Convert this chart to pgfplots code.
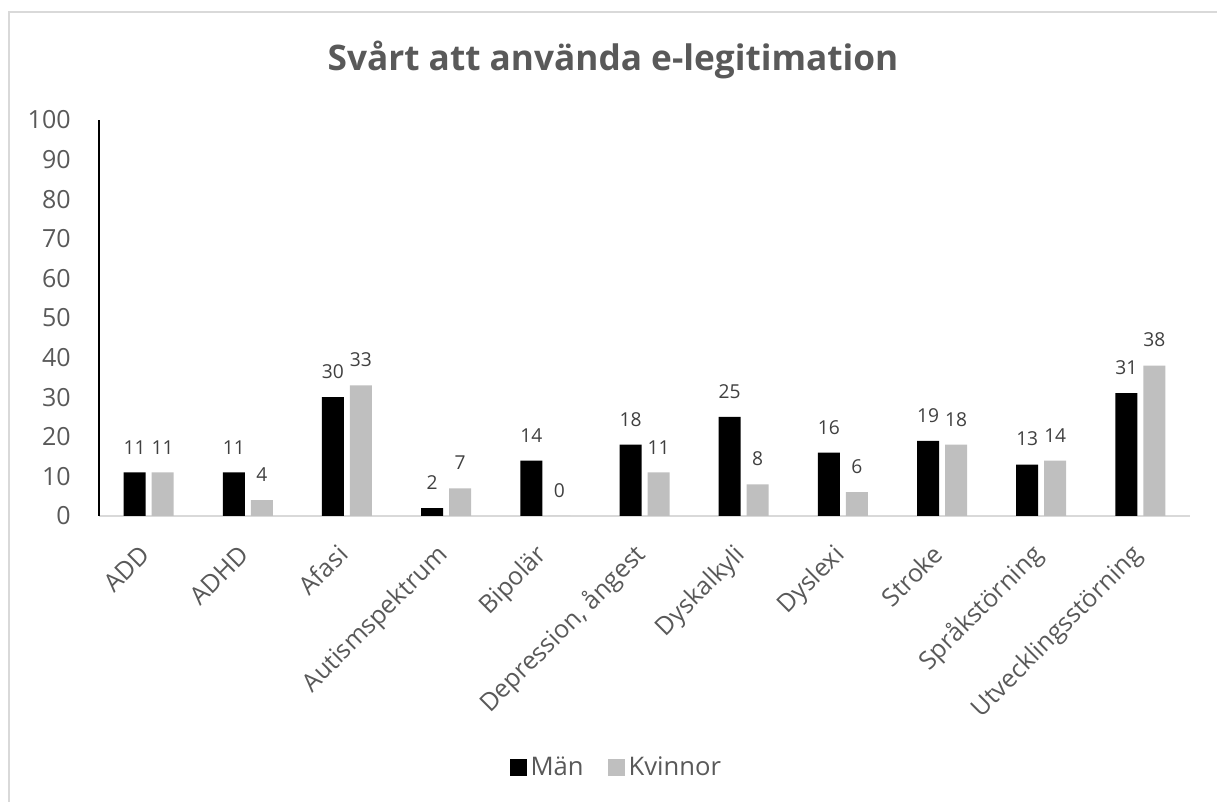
\documentclass[border=0pt]{standalone}
\usepackage{fontspec}
\setmainfont{Open Sans}
\usepackage{pgfplots}
\pgfplotsset{compat=1.18}
\definecolor{txt}{HTML}{595959}
\definecolor{lbl}{HTML}{404040}
\definecolor{frame}{HTML}{D9D9D9}
\definecolor{kv}{HTML}{BFBFBF}
\begin{document}
\begin{tikzpicture}
\useasboundingbox (-49.5pt,-143pt) rectangle (559pt,258pt);
\draw[frame, line width=0.8pt] (-45pt,-143pt) -- (-45pt,252pt) -- (559pt,252pt);
\begin{axis}[
  at={(0pt,0pt)}, anchor=south west,
  scale only axis, width=545.5pt, height=198pt,
  xmin=-0.5, xmax=10.5, ymin=0, ymax=100,
  ybar=3pt, bar width=11pt,
  axis x line*=bottom, axis y line*=left,
  x axis line style={draw=frame, line width=0.8pt, -},
  y axis line style={draw=black, line width=0.8pt, -},
  major tick length=0pt,
  xtick={0,...,10},
  xticklabels={ADD, ADHD, Afasi, Autismspektrum, Bipolär, {Depression, ångest}, Dyskalkyli, Dyslexi, Stroke, Språkstörning, Utvecklingsstörning},
  xticklabel style={xshift=1.5pt, yshift=-20pt, rotate=45, anchor=base east, inner sep=0pt, font=\fontsize{12.5pt}{14pt}\selectfont, text=txt},
  ytick={0,10,...,100},
  yticklabel style={font=\fontsize{12.5pt}{15pt}\selectfont, text=txt, inner sep=0pt, xshift=-14pt},
  /pgf/number format/assume math mode=true,
  nodes near coords,
  nodes near coords style={font=\fontsize{9.6pt}{11pt}\selectfont, text=lbl, inner sep=0pt, anchor=south, yshift=9pt},
  legend style={at={(0.475,-0.636)}, anchor=center, legend columns=2, draw=none, font=\fontsize{12.8pt}{15pt}\selectfont, text=txt,
    /tikz/every even column/.append style={column sep=10pt}},
  legend image code/.code={\fill[#1] (0pt,-4.25pt) rectangle (8.5pt,4.25pt);},
]
\addplot[fill=black, draw=none] coordinates {(0,11) (1,11) (2,30) (3,2) (4,14) (5,18) (6,25) (7,16) (8,19) (9,13) (10,31)};
\addplot[fill=kv, draw=none] coordinates {(0,11) (1,4) (2,33) (3,7) (4,0) (5,11) (6,8) (7,6) (8,18) (9,14) (10,38)};
\legend{Män, Kvinnor}
\end{axis}
\node[text=txt, font=\fontsize{17.6pt}{21pt}\selectfont\bfseries] at (257pt,228pt) {Svårt att använda e-legitimation};
\end{tikzpicture}
\end{document}
